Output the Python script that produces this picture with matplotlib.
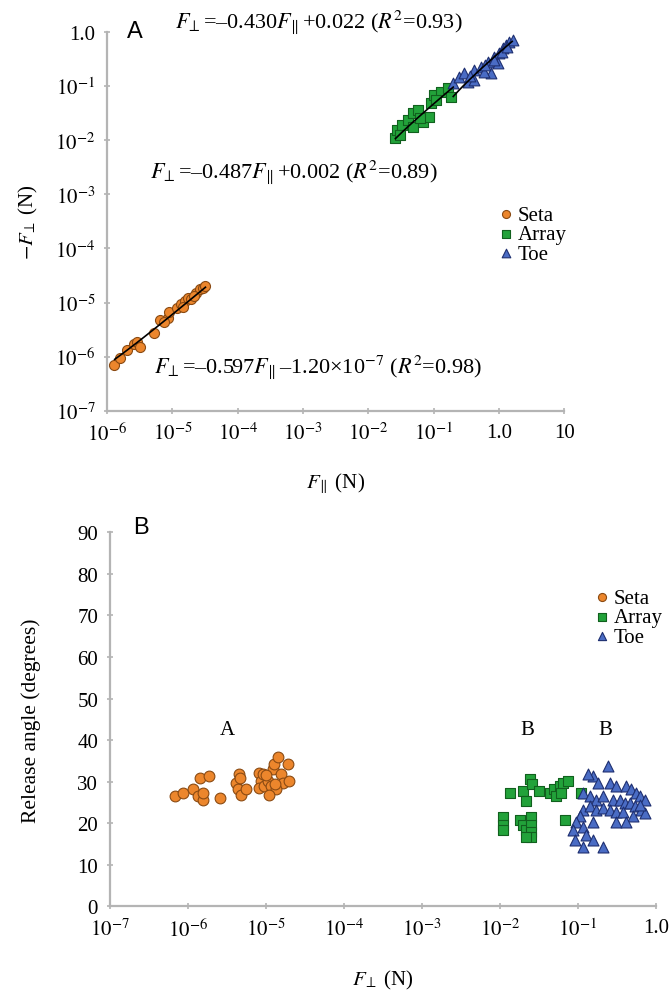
import numpy as np
import matplotlib
matplotlib.use('Agg')
import matplotlib.pyplot as plt
from matplotlib.ticker import FixedLocator, NullLocator

plt.rcParams['font.family'] = ['Liberation Serif', 'DejaVu Serif']
plt.rcParams['mathtext.fontset'] = 'stix'

# ---- panel A: -F_perp vs F_par ----
seta_fpar = [1.28e-6, 1.58e-6, 2.03e-6, 2.6e-6, 2.9e-6, 3.2e-6, 5.3e-6, 6.5e-6, 8.4e-6, 9.0e-6,
             1.19e-5, 1.33e-5, 1.53e-5, 1.7e-5, 1.9e-5, 2.26e-5, 2.6e-5, 2.9e-5, 3.1e-5, 1.45e-5,
             2.1e-5, 7.5e-6]
seta_fperp = [7.0e-7, 9.4e-7, 1.32e-6, 1.7e-6, 1.85e-6, 1.5e-6, 2.7e-6, 4.7e-6, 5.1e-6, 6.6e-6,
              7.8e-6, 9.6e-6, 1.09e-5, 1.24e-5, 1.18e-5, 1.52e-5, 1.8e-5, 1.88e-5, 2.05e-5, 8.2e-6,
              1.3e-5, 4.3e-6]

array_fpar = [0.026, 0.0279, 0.0334, 0.040, 0.049, 0.057, 0.049, 0.070, 0.084, 0.090,
              0.100, 0.128, 0.164, 0.183, 0.031, 0.062, 0.110]
array_fperp = [0.0111, 0.0156, 0.0192, 0.0238, 0.032, 0.036, 0.0177, 0.0219, 0.027, 0.0488,
               0.068, 0.0776, 0.092, 0.063, 0.0125, 0.026, 0.055]

toe_fpar = [0.196, 0.243, 0.29, 0.333, 0.412, 0.528, 0.677, 0.753, 0.838, 1.0,
            1.15, 1.28, 1.43, 1.64, 0.59, 0.41, 0.97, 0.36, 0.62, 1.1, 1.35, 0.85]
toe_fperp = [0.1135, 0.146, 0.173, 0.118, 0.197, 0.223, 0.276, 0.173, 0.34, 0.40,
             0.50, 0.565, 0.64, 0.70, 0.18, 0.129, 0.264, 0.155, 0.24, 0.42, 0.52, 0.30]

# fits written as -F_perp = a*F_par + b, with the x range they cover
fit_seta = (0.597, 1.20e-7, 1.3e-6, 3.2e-5)
fit_array = (0.487, -0.002, 0.026, 0.20)
fit_toe = (0.430, -0.022, 0.20, 1.6)

eq_texts = [r'$F_{\!\perp}$=–0.430$F_{\!\parallel}$+0.022 ($R^{2}$=0.93)',
            r'$F_{\!\perp}$=–0.487$F_{\!\parallel}$+0.002 ($R^{2}$=0.89)',
            r'$F_{\!\perp}$=–0.597$F_{\!\parallel}$–1.20×10$^{-7}$ ($R^{2}$=0.98)']

# ---- panel B: release angle vs F_perp ----
seta_b_f = [6.9e-7, 8.7e-7, 1.18e-6, 1.33e-6, 1.45e-6, 1.54e-6, 1.84e-6, 1.58e-6, 2.6e-6, 4.5e-6,
            4.1e-6, 4.35e-6, 4.75e-6, 5.5e-6, 8.1e-6, 8.6e-6, 8.1e-6, 9.4e-6, 1.06e-5, 1.23e-5,
            1.27e-5, 1.43e-5, 1.56e-5, 1.66e-5, 1.92e-5, 1.98e-5, 1.16e-5, 9.1e-6, 1.35e-5, 1.1e-5,
            4.6e-6, 1.0e-5, 1.3e-5]
seta_b_ang = [26.5, 27.4, 28.2, 26.5, 31.0, 25.7, 31.3, 27.4, 26.0, 31.8,
              29.8, 28.2, 26.9, 28.2, 32.2, 30.1, 28.6, 28.9, 30.1, 33.0,
              34.2, 35.9, 31.8, 29.8, 34.2, 30.1, 28.9, 31.8, 28.2, 26.9,
              30.8, 31.5, 29.5]

array_b_f = [0.0133, 0.0195, 0.024, 0.026, 0.0213, 0.032, 0.0435, 0.050, 0.059, 0.064,
             0.074, 0.052, 0.060, 0.109, 0.0108, 0.0108, 0.0108, 0.0179, 0.0195, 0.0213,
             0.0248, 0.0248, 0.0248, 0.0248, 0.0213, 0.068]
array_b_ang = [27.4, 27.7, 30.6, 29.4, 25.3, 27.7, 27.4, 28.2, 28.9, 29.8,
               30.1, 26.5, 27.4, 27.4, 21.4, 19.7, 18.5, 20.9, 19.7, 18.5,
               21.4, 19.7, 18.0, 16.6, 16.8, 20.9]

toe_b_f = [0.244, 0.156, 0.181, 0.259, 0.309, 0.416, 0.483, 0.56, 0.63, 0.73,
           0.116, 0.143, 0.171, 0.21, 0.283, 0.348, 0.404, 0.469, 0.543, 0.65,
           0.116, 0.143, 0.171, 0.21, 0.259, 0.309, 0.381, 0.513, 0.106, 0.094,
           0.116, 0.156, 0.309, 0.416, 0.086, 0.127, 0.156, 0.116, 0.21, 0.091,
           0.133, 0.72, 0.62]
toe_b_ang = [33.7, 31.3, 29.8, 29.8, 28.9, 28.9, 28.2, 27.4, 26.5, 25.7,
             27.4, 26.5, 25.7, 26.5, 25.7, 25.7, 25.0, 25.0, 24.1, 23.3,
             23.3, 24.1, 23.3, 23.8, 23.3, 22.6, 22.6, 21.7, 21.7, 20.2,
             19.2, 20.2, 20.2, 20.2, 18.5, 17.3, 16.1, 14.2, 14.4, 16.1,
             31.8, 22.5, 24.5]

group_letters = ['A', 'B', 'B']
group_pos = [3.2e-6, 0.0226, 0.223]

orange = '#ec862c'
orange_e = '#8a4a12'
green = '#22a23a'
green_e = '#11601e'
blue = '#4a6cc4'
blue_e = '#1e2f70'
axis_gray = '#b4b4b4'


def style_axes(ax):
    for s in ['top', 'right']:
        ax.spines[s].set_visible(False)
    for s in ['left', 'bottom']:
        ax.spines[s].set_color(axis_gray)
        ax.spines[s].set_linewidth(1.6)
    ax.tick_params(which='both', direction='inout', length=5, width=1.2,
                   color=axis_gray, labelsize=15, pad=6)


def pow_label(v):
    e = int(round(np.log10(v)))
    if e == 0:
        return '1.0'
    if e == 1:
        return '10'
    return r'$10^{%d}$' % e


fig = plt.figure(figsize=(6.7, 9.95), dpi=100)

# ---------- panel A ----------
axA = fig.add_axes([0.160, 0.586, 0.682, 0.381])
axA.set_xscale('log')
axA.set_yscale('log')
axA.set_xlim(1e-6, 10)
axA.set_ylim(1e-7, 1.0)
style_axes(axA)

axA.scatter(seta_fpar, seta_fperp, s=52, marker='o', c=orange, edgecolors=orange_e,
            linewidths=0.8, label='Seta', zorder=2)
axA.scatter(array_fpar, array_fperp, s=52, marker='s', c=green, edgecolors=green_e,
            linewidths=0.8, label='Array', zorder=2)
axA.scatter(toe_fpar, toe_fperp, s=60, marker='^', c=blue, edgecolors=blue_e,
            linewidths=0.8, label='Toe', zorder=2)

for a, b, x0, x1 in [fit_seta, fit_array, fit_toe]:
    xs = np.logspace(np.log10(x0), np.log10(x1), 50)
    axA.plot(xs, a * xs + b, color='black', lw=1.2, zorder=3)

xt = [1e-6, 1e-5, 1e-4, 1e-3, 1e-2, 1e-1, 1, 10]
yt = [1e-7, 1e-6, 1e-5, 1e-4, 1e-3, 1e-2, 1e-1, 1]
axA.xaxis.set_major_locator(FixedLocator(xt))
axA.yaxis.set_major_locator(FixedLocator(yt))
axA.xaxis.set_minor_locator(NullLocator())
axA.yaxis.set_minor_locator(NullLocator())
axA.set_xticklabels([pow_label(v) for v in xt])
axA.set_yticklabels([pow_label(v) for v in yt])
axA.set_xlabel(r'$F_{\!\parallel}$ (N)', fontsize=15, labelpad=18)
axA.set_ylabel(r'$-F_{\!\perp}$ (N)', fontsize=15, labelpad=11)

fig.text(175 / 670, 1 - 22 / 995, eq_texts[0], fontsize=16, ha='left', va='center')
fig.text(150 / 670, 1 - 172 / 995, eq_texts[1], fontsize=16, ha='left', va='center')
fig.text(154 / 670, 1 - 367 / 995, eq_texts[2], fontsize=16, ha='left', va='center')
fig.text(135 / 670, 1 - 32 / 995, 'A', family='Liberation Sans', fontsize=17,
         ha='center', va='center')

axA.legend(loc='upper left', bbox_to_anchor=(497 / 670, 1 - 206 / 995),
           bbox_transform=fig.transFigure, frameon=False, fontsize=15,
           handletextpad=0.1, labelspacing=0.0, borderpad=0, borderaxespad=0,
           handlelength=0.9, markerscale=0.8)

# ---------- panel B ----------
axB = fig.add_axes([0.164, 0.088, 0.815, 0.376])
axB.set_xscale('log')
axB.set_xlim(1e-7, 1.0)
axB.set_ylim(0, 90)
style_axes(axB)

axB.scatter(seta_b_f, seta_b_ang, s=60, marker='o', c=orange, edgecolors=orange_e,
            linewidths=0.8, label='Seta', zorder=2)
axB.scatter(array_b_f, array_b_ang, s=52, marker='s', c=green, edgecolors=green_e,
            linewidths=0.8, label='Array', zorder=2)
axB.scatter(toe_b_f, toe_b_ang, s=62, marker='^', c=blue, edgecolors=blue_e,
            linewidths=0.8, label='Toe', zorder=2)

for lab, xp in zip(group_letters, group_pos):
    axB.text(xp, 42.6, lab, fontsize=15, ha='center', va='center')

xtB = [1e-7, 1e-6, 1e-5, 1e-4, 1e-3, 1e-2, 1e-1, 1]
axB.xaxis.set_major_locator(FixedLocator(xtB))
axB.xaxis.set_minor_locator(NullLocator())
axB.set_xticklabels([pow_label(v) for v in xtB])
axB.set_yticks(np.arange(0, 91, 10))
axB.set_xlabel(r'$F_{\!\perp}$ (N)', fontsize=15, labelpad=20)
axB.set_ylabel('Release angle (degrees)', fontsize=15.5, labelpad=26)

fig.text(141 / 670, 1 - 528 / 995, 'B', family='Liberation Sans', fontsize=17,
         ha='center', va='center')

axB.legend(loc='upper left', bbox_to_anchor=(593 / 670, 1 - 589 / 995),
           bbox_transform=fig.transFigure, frameon=False, fontsize=15,
           handletextpad=0.1, labelspacing=0.0, borderpad=0, borderaxespad=0,
           handlelength=0.9, markerscale=0.75)

fig.savefig('out.png', dpi=100)
